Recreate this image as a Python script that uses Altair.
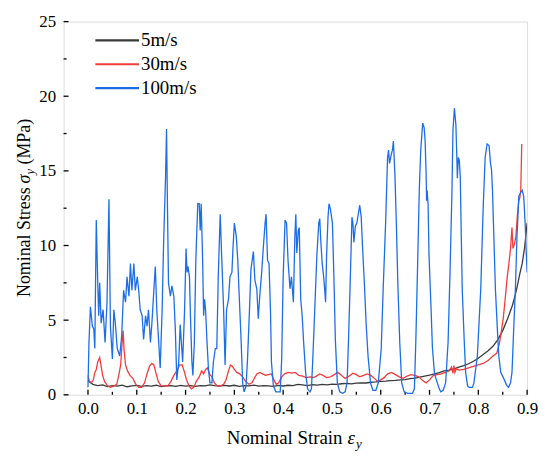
import altair as alt
import pandas as pd

FONT = "Liberation Serif"

series_names = ["5m/s", "30m/s", "100m/s"]
series_colors = ["#3a3a3a", "#f23b3b", "#1c6ee6"]
series_widths = [1.3, 1.3, 2.0]
legend_rows = [19, 43, 67]

x_major = [0.0, 0.1, 0.2, 0.3, 0.4, 0.5, 0.6, 0.7, 0.8, 0.9]
x_minor = [0.05, 0.15, 0.25, 0.35, 0.45, 0.55, 0.65, 0.75, 0.85]
y_major = [0, 5, 10, 15, 20, 25]
y_minor = [2.5, 7.5, 12.5, 17.5, 22.5]

# 5 m/s (strain, stress)
v5 = [(0.00, 0.95), (0.01, 0.70), (0.02, 0.62), (0.03, 0.66), (0.04, 0.55), (0.05, 0.62),
      (0.06, 0.58), (0.07, 0.65), (0.08, 0.54), (0.09, 0.60), (0.10, 0.63), (0.11, 0.56),
      (0.12, 0.61), (0.13, 0.58), (0.14, 0.64), (0.15, 0.55), (0.16, 0.60), (0.17, 0.62),
      (0.18, 0.57), (0.19, 0.63), (0.20, 0.58), (0.21, 0.61), (0.22, 0.56), (0.23, 0.62),
      (0.24, 0.60), (0.25, 0.67), (0.26, 0.62), (0.27, 0.58), (0.28, 0.63), (0.29, 0.59),
      (0.30, 0.64), (0.31, 0.57), (0.32, 0.62), (0.33, 0.60), (0.34, 0.65), (0.35, 0.58),
      (0.36, 0.62), (0.37, 0.60), (0.38, 0.57), (0.39, 0.63), (0.40, 0.59), (0.41, 0.64),
      (0.42, 0.62), (0.43, 0.70), (0.44, 0.66), (0.45, 0.62), (0.46, 0.68), (0.47, 0.65),
      (0.48, 0.70), (0.49, 0.67), (0.50, 0.72), (0.51, 0.70), (0.52, 0.74), (0.53, 0.76),
      (0.54, 0.73), (0.55, 0.78), (0.56, 0.80), (0.57, 0.79), (0.58, 0.84), (0.59, 0.86),
      (0.60, 0.90), (0.61, 0.92), (0.62, 0.95), (0.63, 0.97), (0.64, 1.00), (0.65, 1.02),
      (0.66, 1.08), (0.67, 1.12), (0.68, 1.18), (0.69, 1.25), (0.70, 1.32), (0.71, 1.40),
      (0.72, 1.48), (0.73, 1.60), (0.74, 1.66), (0.75, 1.74), (0.76, 1.85), (0.77, 1.95),
      (0.78, 2.08), (0.79, 2.25), (0.80, 2.45), (0.81, 2.70), (0.82, 2.95), (0.83, 3.25),
      (0.84, 3.70), (0.85, 4.30), (0.86, 5.10), (0.87, 6.00), (0.875, 6.60), (0.88, 7.30),
      (0.885, 8.10), (0.89, 8.80), (0.895, 9.90), (0.90, 11.5)]

# 30 m/s
v30 = [(0.000, 1.3), (0.003, 0.9), (0.007, 0.8), (0.011, 1.0), (0.014, 1.5), (0.017, 1.7),
       (0.020, 2.2), (0.024, 2.5), (0.027, 1.9), (0.030, 1.3), (0.034, 0.9), (0.040, 0.6),
       (0.046, 0.5), (0.053, 0.6), (0.059, 0.7), (0.063, 1.3), (0.067, 2.0), (0.070, 3.5),
       (0.072, 4.3), (0.074, 3.0), (0.077, 2.0), (0.081, 1.6), (0.086, 1.3), (0.092, 1.1),
       (0.098, 0.7), (0.104, 0.5), (0.110, 0.5), (0.116, 0.8), (0.121, 1.4), (0.126, 1.9),
       (0.131, 2.1), (0.135, 2.0), (0.139, 1.5), (0.144, 0.9), (0.150, 0.6), (0.157, 0.6),
       (0.164, 0.6), (0.170, 0.9), (0.176, 1.3), (0.182, 1.6), (0.188, 2.0), (0.193, 2.0),
       (0.197, 1.6), (0.202, 1.0), (0.207, 0.6), (0.212, 0.4), (0.217, 0.5), (0.222, 0.9),
       (0.228, 1.2), (0.233, 1.6), (0.237, 1.4), (0.241, 1.7), (0.245, 1.8), (0.249, 1.4),
       (0.254, 1.2), (0.259, 0.8), (0.265, 0.6), (0.272, 0.6), (0.278, 0.7), (0.283, 1.0),
       (0.288, 1.6), (0.292, 2.0), (0.296, 1.9), (0.300, 1.7), (0.305, 1.5), (0.311, 1.4),
       (0.317, 1.2), (0.323, 0.9), (0.330, 0.7), (0.336, 0.8), (0.341, 1.1), (0.346, 1.4),
       (0.352, 1.5), (0.358, 1.4), (0.364, 1.3), (0.370, 1.35), (0.376, 1.4), (0.381, 1.0),
       (0.386, 0.7), (0.391, 0.8), (0.397, 1.2), (0.403, 1.4), (0.410, 1.5), (0.418, 1.45),
       (0.425, 1.5), (0.432, 1.3), (0.440, 1.25), (0.447, 1.15), (0.455, 1.2), (0.462, 1.15),
       (0.468, 1.25), (0.475, 1.4), (0.482, 1.3), (0.489, 1.15), (0.497, 1.2), (0.505, 1.35),
       (0.512, 1.5), (0.520, 1.3), (0.527, 1.1), (0.535, 1.25), (0.543, 1.45), (0.550, 1.35),
       (0.557, 1.2), (0.565, 1.3), (0.572, 1.4), (0.580, 1.3), (0.587, 1.1), (0.594, 0.9),
       (0.600, 1.0), (0.607, 1.15), (0.614, 1.4), (0.622, 1.5), (0.630, 1.35), (0.638, 1.2),
       (0.646, 1.1), (0.654, 1.25), (0.662, 1.35), (0.670, 1.3), (0.678, 1.2), (0.686, 0.95),
       (0.693, 0.8), (0.700, 1.0), (0.708, 1.3), (0.716, 1.35), (0.724, 1.4), (0.732, 1.5),
       (0.740, 1.6), (0.745, 1.85), (0.748, 1.45), (0.750, 1.95), (0.752, 1.5), (0.755, 1.75),
       (0.760, 1.65), (0.770, 1.7), (0.780, 1.8), (0.790, 1.9), (0.800, 2.0), (0.810, 2.1),
       (0.820, 2.3), (0.830, 2.6), (0.838, 2.8), (0.843, 3.4), (0.847, 4.2), (0.851, 5.1),
       (0.855, 6.4), (0.859, 7.8), (0.863, 8.9), (0.866, 9.8), (0.869, 11.2), (0.871, 9.8),
       (0.874, 10.1), (0.877, 10.6), (0.880, 12.0), (0.883, 13.0), (0.885, 13.2), (0.887, 13.7),
       (0.889, 16.8)]

# 100 m/s
v100 = [(0.000, 0.5), (0.002, 3.5), (0.005, 5.9), (0.009, 4.6), (0.012, 4.4), (0.014, 3.1),
        (0.017, 11.7), (0.020, 7.5), (0.022, 5.3), (0.024, 7.5), (0.027, 4.8), (0.031, 5.7),
        (0.035, 3.5), (0.039, 6.2), (0.043, 13.1), (0.046, 4.6), (0.050, 2.4), (0.053, 5.7),
        (0.056, 4.8), (0.060, 3.1), (0.065, 2.6), (0.069, 3.9), (0.073, 7.0), (0.077, 6.2),
        (0.080, 7.9), (0.084, 6.6), (0.087, 8.8), (0.090, 7.0), (0.094, 8.8), (0.097, 7.0),
        (0.101, 7.9), (0.104, 7.0), (0.107, 5.7), (0.111, 5.3), (0.114, 3.7), (0.118, 5.3),
        (0.121, 4.6), (0.124, 5.7), (0.128, 3.5), (0.131, 4.8), (0.135, 7.0), (0.138, 8.6),
        (0.141, 5.7), (0.145, 3.5), (0.148, 1.8), (0.152, 5.7), (0.155, 10.2), (0.159, 14.6),
        (0.161, 17.8), (0.163, 12.4), (0.165, 7.5), (0.169, 6.6), (0.172, 7.3), (0.176, 6.6),
        (0.179, 4.4), (0.182, 1.0), (0.186, 2.2), (0.189, 4.7), (0.194, 2.2), (0.198, 5.7),
        (0.201, 9.8), (0.203, 8.2), (0.205, 8.6), (0.208, 7.9), (0.210, 5.3), (0.213, 2.2),
        (0.215, 1.3), (0.218, 3.5), (0.221, 9.0), (0.225, 12.8), (0.228, 12.8), (0.230, 11.0),
        (0.232, 12.8), (0.235, 9.0), (0.237, 5.3), (0.239, 6.4), (0.241, 5.7), (0.244, 3.5),
        (0.247, 1.7), (0.250, 0.8), (0.254, 0.8), (0.257, 2.2), (0.261, 3.1), (0.264, 3.1),
        (0.267, 7.9), (0.271, 12.1), (0.274, 9.3), (0.278, 5.7), (0.281, 2.0), (0.284, 5.7),
        (0.288, 6.4), (0.291, 7.9), (0.295, 8.2), (0.297, 9.7), (0.300, 11.5), (0.304, 10.6),
        (0.307, 9.0), (0.310, 6.6), (0.314, 3.5), (0.317, 0.8), (0.320, 0.2), (0.324, 0.6),
        (0.327, 2.4), (0.331, 5.7), (0.334, 8.4), (0.339, 9.6), (0.342, 7.7), (0.346, 7.1),
        (0.349, 5.1), (0.352, 6.6), (0.356, 8.2), (0.359, 9.7), (0.363, 11.5), (0.365, 12.1),
        (0.368, 9.0), (0.371, 8.8), (0.374, 5.7), (0.376, 2.2), (0.380, 0.6), (0.385, 0.2),
        (0.390, 0.2), (0.394, 0.2), (0.397, 2.4), (0.400, 7.9), (0.404, 11.7), (0.407, 11.5),
        (0.410, 9.0), (0.414, 7.1), (0.417, 7.9), (0.421, 6.2), (0.424, 10.6), (0.426, 12.1),
        (0.428, 9.5), (0.431, 11.0), (0.433, 11.2), (0.436, 6.4), (0.439, 5.3), (0.442, 3.5),
        (0.446, 1.5), (0.450, 0.4), (0.455, 0.2), (0.458, 0.4), (0.461, 2.6), (0.465, 5.9),
        (0.469, 9.3), (0.473, 11.5), (0.475, 11.8), (0.477, 10.4), (0.480, 8.8), (0.483, 7.9),
        (0.485, 7.1), (0.487, 6.2), (0.489, 9.3), (0.492, 11.9), (0.494, 12.8), (0.497, 12.4),
        (0.501, 11.5), (0.504, 7.9), (0.507, 3.7), (0.511, 0.8), (0.516, 0.2), (0.522, 0.1),
        (0.527, 0.2), (0.531, 0.8), (0.534, 3.7), (0.538, 8.2), (0.541, 11.9), (0.543, 11.5),
        (0.545, 10.2), (0.548, 11.3), (0.551, 11.5), (0.553, 11.9), (0.557, 12.7), (0.560, 11.9),
        (0.563, 9.7), (0.567, 7.1), (0.570, 4.8), (0.574, 2.6), (0.579, 0.8), (0.584, 0.3),
        (0.590, 0.3), (0.595, 0.8), (0.601, 3.1), (0.605, 7.1), (0.610, 11.5), (0.614, 15.9),
        (0.616, 16.4), (0.618, 15.5), (0.621, 16.0), (0.624, 16.4), (0.626, 17.0), (0.629, 14.8),
        (0.632, 11.5), (0.635, 7.5), (0.639, 3.5), (0.643, 0.8), (0.648, 0.2), (0.655, 0.1),
        (0.665, 0.1), (0.669, 0.4), (0.672, 3.7), (0.676, 9.3), (0.679, 13.7), (0.682, 16.4),
        (0.686, 18.2), (0.689, 17.9), (0.691, 17.0), (0.693, 14.8), (0.694, 13.0), (0.695, 13.7),
        (0.697, 12.8), (0.699, 9.3), (0.703, 5.9), (0.706, 3.1), (0.710, 1.5), (0.713, 1.1),
        (0.716, 0.8), (0.720, 0.4), (0.723, 0.2), (0.728, 0.3), (0.733, 0.8), (0.738, 3.5),
        (0.742, 8.2), (0.746, 13.7), (0.748, 17.7), (0.751, 19.2), (0.754, 18.1), (0.756, 15.9),
        (0.757, 14.5), (0.759, 15.9), (0.761, 15.7), (0.763, 14.6), (0.765, 10.8), (0.767, 7.1),
        (0.771, 3.7), (0.774, 1.5), (0.778, 0.6), (0.781, 0.5), (0.788, 0.5), (0.791, 0.8),
        (0.798, 2.6), (0.805, 7.1), (0.810, 12.6), (0.814, 15.9), (0.818, 16.8), (0.822, 16.7),
        (0.825, 15.5), (0.827, 15.1), (0.829, 13.7), (0.832, 10.4), (0.835, 7.1), (0.839, 4.4),
        (0.842, 2.6), (0.846, 1.5), (0.849, 1.3), (0.852, 1.1), (0.856, 0.8), (0.859, 0.6),
        (0.862, 0.5), (0.866, 0.8), (0.869, 1.5), (0.873, 4.8), (0.876, 7.1), (0.879, 10.4),
        (0.883, 13.3), (0.886, 13.5), (0.890, 13.7), (0.893, 13.3), (0.896, 11.5), (0.898, 9.7),
        (0.900, 8.2)]

frames = []
for name, vals in zip(series_names, [v5, v30, v100]):
    frames.append(pd.DataFrame({"strain": [p[0] for p in vals],
                                "stress": [p[1] for p in vals],
                                "series": name}))
df = pd.concat(frames, ignore_index=True)

W, H = 467, 376

xs = alt.Scale(domain=[-0.05, 0.9], nice=False, zero=False, padding=0)
ys = alt.Scale(domain=[0, 25], nice=False, zero=False, padding=0)
xaxis = alt.Axis(values=x_major, format=".1f", title=None, ticks=False, tickSize=0,
                 domain=False, grid=False, labelFont=FONT, labelFontSize=17,
                 labelColor="black", labelPadding=6, labelFlush=False)
yaxis = alt.Axis(values=y_major, format="d", title=None, ticks=False, tickSize=0,
                 domain=False, grid=False, labelFont=FONT, labelFontSize=17,
                 labelColor="black", labelPadding=8, labelFlush=False)

lines = alt.Chart(df).mark_line(clip=True).encode(
    x=alt.X("strain:Q", scale=xs, axis=xaxis),
    y=alt.Y("stress:Q", scale=ys, axis=yaxis),
    color=alt.Color("series:N", scale=alt.Scale(domain=series_names, range=series_colors),
                    legend=None),
    strokeWidth=alt.StrokeWidth("series:N",
                                scale=alt.Scale(domain=series_names, range=series_widths),
                                legend=None),
)

def rule_y(vals, length):
    return alt.Chart(pd.DataFrame({"v": vals})).mark_rule(color="black", strokeWidth=1.3).encode(
        y=alt.Y("v:Q", scale=ys, axis=yaxis), x=alt.value(0), x2=alt.value(length))

def rule_x(vals, length):
    return alt.Chart(pd.DataFrame({"v": vals})).mark_rule(color="black", strokeWidth=1.3).encode(
        x=alt.X("v:Q", scale=xs, axis=xaxis), y=alt.value(H), y2=alt.value(H - length))

one = pd.DataFrame({"k": [0]})

def txt(s, x, y, size=19, italic=False, align="left", angle=0, baseline="alphabetic"):
    kw = dict(text=s, font=FONT, fontSize=size, color="black", align=align,
              baseline=baseline)
    if italic:
        kw["fontStyle"] = "italic"
    if angle:
        kw["angle"] = angle
    return alt.Chart(one).mark_text(**kw).encode(x=alt.value(x), y=alt.value(y))

# legend built from the series lists
legend_layers = []
for name, col, ry in zip(series_names, series_colors, legend_rows):
    legend_layers.append(
        alt.Chart(one).mark_rule(color=col, strokeWidth=2.2).encode(
            x=alt.value(32), x2=alt.value(76), y=alt.value(ry)))
    legend_layers.append(txt(name, 78, ry, size=19, baseline="middle"))

titles = [
    txt("Nominal Strain", 281, 426, align="right"),
    txt("ε", 286, 426, italic=True),
    txt("y", 294.5, 430, size=13, italic=True),
    txt("Nominal Stress", -34, 167, size=18, align="right", angle=270),
    txt("σ", -34, 163, size=18, italic=True, angle=270),
    txt("y", -30, 154, size=12.5, italic=True, angle=270),
    txt("(MPa)", -34, 144, size=18, angle=270),
]

chart = alt.layer(rule_y(y_major, 5), rule_y(y_minor, 3), rule_x(x_major, 5),
                  rule_x(x_minor, 3), lines, *legend_layers, *titles).properties(
    width=W, height=H,
    autosize=alt.AutoSizeParams(type="none"),
    padding={"left": 56, "top": 12, "right": 15, "bottom": 65},
).configure_view(stroke="#1a1a1a", strokeWidth=1.5).configure_axis(
    labelFont=FONT, labelFontSize=17, labelColor="black", labelFlush=False
).configure(background="white")

chart.save("out.html", embed_options={"renderer": "svg", "actions": False})
